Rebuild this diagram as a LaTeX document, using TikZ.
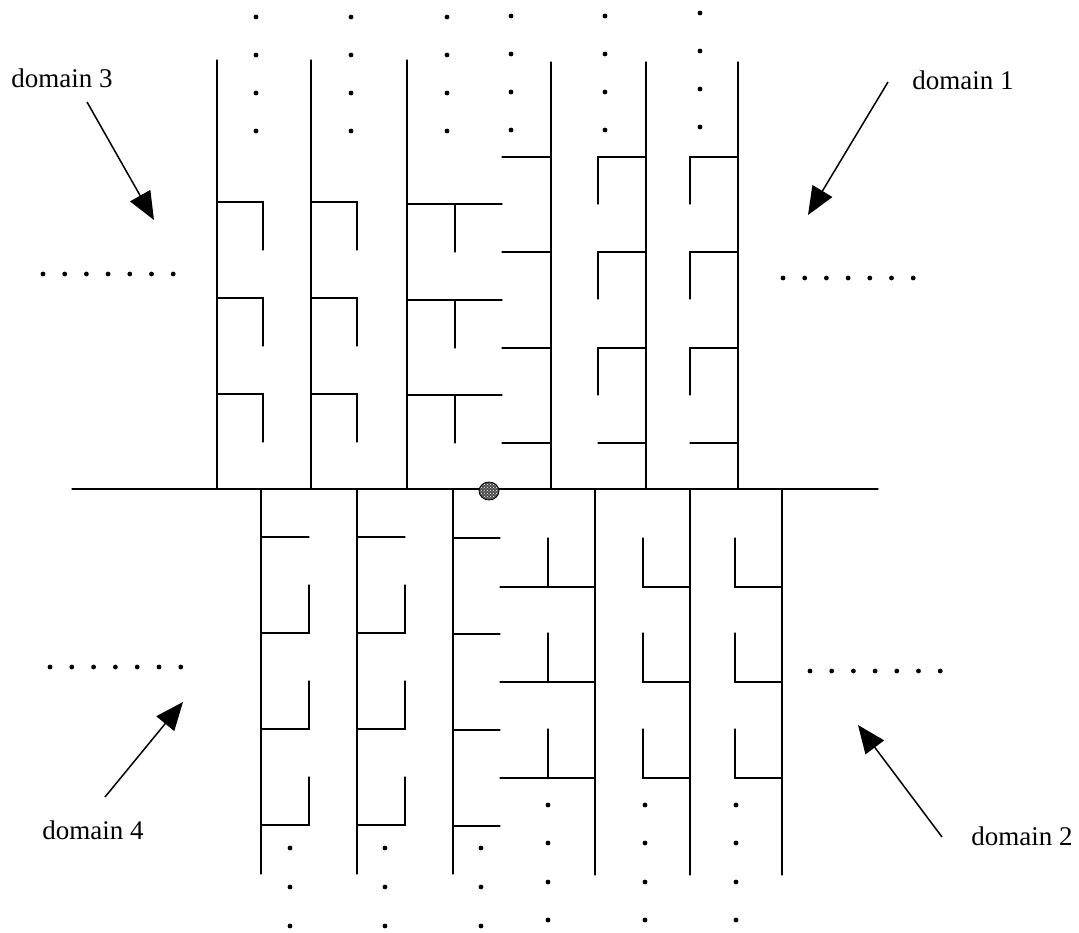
\documentclass[tikz,border=0pt]{standalone}
\usepackage{fontspec}
\setmainfont{Liberation Serif}
\usetikzlibrary{arrows.meta,patterns}
\begin{document}
\begin{tikzpicture}[x=1pt,y=-1pt,
  wall/.style={line width=1.3pt,line cap=round},
  dotmark/.style={fill=black},
  ptr/.style={line width=1.5pt,-{Triangle[length=28pt,width=23pt]}},
  lbl/.style={font=\fontsize{27}{30}\selectfont,inner sep=0pt}]
\useasboundingbox (0,0) rectangle (1079,933);
% main horizontal line
\draw[wall] (72,489) -- (878,489);
% ---------- domain 3 (upper left) ----------
\foreach \x in {217,311,407} \draw[wall] (\x,60) -- (\x,489);
\foreach \x in {217,311} \foreach \y in {202,298,394}
  \draw[wall] (\x,\y) -- (\x+46,\y) -- (\x+46,\y+48);
\foreach \y in {204,300,395} {
  \draw[wall] (407,\y) -- (502,\y);
  \draw[wall] (455,\y) -- (455,\y+48);}
\foreach \x in {256,351,447} \foreach \y in {17,55,93,131}
  \fill[dotmark] (\x,\y) circle (2.4);
% ---------- domain 1 (upper right) ----------
\foreach \x in {551,646,738} \draw[wall] (\x,62) -- (\x,489);
\foreach \y in {157,252,348,443} \draw[wall] (502,\y) -- (551,\y);
\foreach \x in {646,738} {
  \foreach \y in {157,252,348}
    \draw[wall] (\x,\y) -- (\x-48,\y) -- (\x-48,\y+47);
  \draw[wall] (\x,443) -- (\x-48,443);}
\foreach \x/\t in {511/16,605/16,700/13} \foreach \k in {0,1,2,3}
  \fill[dotmark] (\x,\t+38*\k) circle (2.4);
% ---------- domain 4 (lower left) ----------
\foreach \x in {261,357,453} \draw[wall] (\x,489) -- (\x,874);
\foreach \x in {261,357} {
  \draw[wall] (\x,537) -- (\x+48,537);
  \foreach \y in {633,729,825}
    \draw[wall] (\x,\y) -- (\x+48,\y) -- (\x+48,\y-48);}
\foreach \y in {538,634,730,826} \draw[wall] (453,\y) -- (500,\y);
\foreach \x in {290,385,481} \foreach \y in {848,887,926}
  \fill[dotmark] (\x,\y) circle (2.4);
% ---------- domain 2 (lower right) ----------
\foreach \x in {595,690,782} \draw[wall] (\x,489) -- (\x,875);
\foreach \y in {587,682,778} {
  \draw[wall] (500,\y) -- (595,\y);
  \draw[wall] (548,\y) -- (548,\y-49);
  \foreach \x in {690,782}
    \draw[wall] (\x,\y) -- (\x-47,\y) -- (\x-47,\y-49);}
\foreach \x in {548,645,736} \foreach \y in {805,843,882,920}
  \fill[dotmark] (\x,\y) circle (2.4);
% ---------- horizontal dot rows ----------
\foreach \k in {0,...,6} {
  \fill[dotmark] (43+21.7*\k,274) circle (2.4);
  \fill[dotmark] (783+21.7*\k,278) circle (2.4);
  \fill[dotmark] (50+21.8*\k,667) circle (2.4);
  \fill[dotmark] (810+21.7*\k,671) circle (2.4);}
% ---------- centre marker ----------
\fill[black!70] (489,491) ellipse (10 and 9);
\fill[pattern=crosshatch dots,pattern color=white] (489,491) ellipse (10 and 9);
\draw[black,line width=0.8pt] (489,491) ellipse (10 and 9);
% ---------- labels and arrows ----------
\node[lbl] (d3) at (62,78) {domain 3};
\node[lbl] (d1) at (963,80) {domain 1};
\node[lbl] (d4) at (93,830) {domain 4};
\node[lbl] (d2) at (1022,836) {domain 2};
\coordinate (s3) at (87,102);  \coordinate (t3) at (154,220);
\coordinate (s1) at (888,82);  \coordinate (t1) at (808,215);
\coordinate (s4) at (105,797); \coordinate (t4) at (183,702);
\coordinate (s2) at (942,837); \coordinate (t2) at (858,725);
\draw[ptr] (s3) -- (t3);
\draw[ptr] (s1) -- (t1);
\draw[ptr] (s4) -- (t4);
\draw[ptr] (s2) -- (t2);
\end{tikzpicture}
\end{document}
